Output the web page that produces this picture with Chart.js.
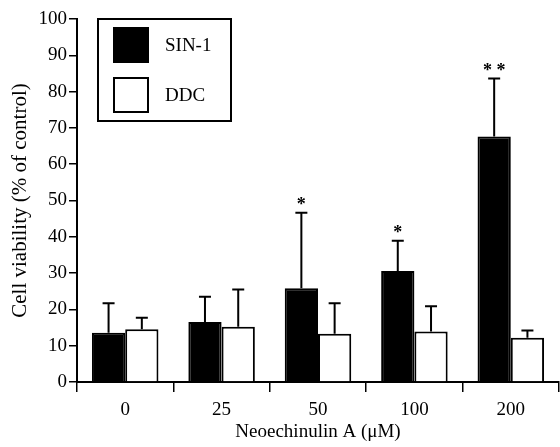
<!DOCTYPE html>
<html>
<head>
<meta charset="utf-8">
<script src="https://cdn.jsdelivr.net/npm/chart.js@4"></script>
<style>
  body { margin: 0; background: #fff; }
  #wrap { width: 560px; height: 447px; }
</style>
</head>
<body>
<div id="wrap"><canvas id="grafico"></canvas></div>
<script>
const categories = ['0', '25', '50', '100', '200'];
const sin1 = [13.6, 16.5, 25.8, 30.6, 67.6];
const sin1Sd = [8.1, 7.0, 20.8, 8.3, 16.0];
const ddc = [14.5, 15.2, 13.3, 13.9, 12.2];
const ddcSd = [3.2, 10.3, 8.4, 7.0, 2.0];
const signif = ['', '', '*', '*', '**'];
const yTicks = [0, 10, 20, 30, 40, 50, 60, 70, 80, 90, 100];

const serif = '"Liberation Serif", "Times New Roman", serif';

// error bars + asterisks on top of each bar
const errorBars = {
    id: 'errorBars',
    afterDatasetsDraw(chart) {
        const ctx = chart.ctx;
        const y = chart.scales.y;
        const sds = [sin1Sd, ddcSd];
        ctx.save();
        ctx.strokeStyle = '#000';
        ctx.lineWidth = 2;
        chart.data.datasets.forEach((ds, di) => {
            chart.getDatasetMeta(di).data.forEach((bar, i) => {
                const top = y.getPixelForValue(ds.data[i] + sds[di][i]);
                ctx.beginPath();
                ctx.moveTo(bar.x, bar.y);
                ctx.lineTo(bar.x, top);
                ctx.moveTo(bar.x - 6, top);
                ctx.lineTo(bar.x + 6, top);
                ctx.stroke();
                if (di === 0 && signif[i]) {
                    ctx.fillStyle = '#000';
                    ctx.font = 'bold 18px ' + serif;
                    ctx.textAlign = 'center';
                    ctx.textBaseline = 'middle';
                    ctx.fillText(signif[i].split('').join(' '), bar.x, top - 7);
                }
            });
        });
        ctx.restore();
    }
};

// boxed legend inside the plot area
const boxLegend = {
    id: 'boxLegend',
    afterDraw(chart) {
        const ctx = chart.ctx;
        const a = chart.chartArea;
        const bx = a.left + 21, by = a.top, bw = 133, bh = 102;
        ctx.save();
        ctx.strokeStyle = '#000';
        ctx.lineWidth = 2;
        ctx.fillStyle = '#fff';
        ctx.fillRect(bx, by, bw, bh);
        ctx.strokeRect(bx, by, bw, bh);
        chart.data.datasets.forEach((ds, i) => {
            const sy = by + 9 + i * 50;
            ctx.fillStyle = ds.backgroundColor;
            ctx.fillRect(bx + 16, sy, 34, 34);
            ctx.strokeRect(bx + 16, sy, 34, 34);
            ctx.fillStyle = '#000';
            ctx.font = '19px ' + serif;
            ctx.textAlign = 'left';
            ctx.textBaseline = 'middle';
            ctx.fillText(ds.label, bx + 67, sy + 18);
        });
        ctx.restore();
    }
};

new Chart(document.getElementById('grafico').getContext('2d'), {
    type: 'bar',
    data: {
        labels: categories,
        datasets: [
            {
                label: 'SIN-1',
                data: sin1,
                backgroundColor: '#000',
                borderColor: '#000',
                borderWidth: 2
            },
            {
                label: 'DDC',
                data: ddc,
                backgroundColor: '#fff',
                borderColor: '#000',
                borderWidth: 2
            }
        ]
    },
    options: {
        responsive: true,
        maintainAspectRatio: false,
        animation: false,
        layout: { padding: { top: 19, right: 1, left: 0, bottom: 0 } },
        datasets: { bar: { categoryPercentage: 0.69, barPercentage: 1 } },
        plugins: {
            legend: { display: false },
            tooltip: { enabled: false }
        },
        scales: {
            x: {
                afterFit(scale) { scale.height = 65; },
                border: { color: '#000', width: 2 },
                grid: { offset: true, drawOnChartArea: false, color: '#000', lineWidth: 1.5, tickLength: 10 },
                ticks: { color: '#000', font: { family: serif, size: 19 }, padding: 7, maxRotation: 0 },
                title: {
                    display: true,
                    text: 'Neoechinulin A (μM)',
                    color: '#000',
                    font: { family: serif, size: 19 },
                    padding: { top: 3 }
                }
            },
            y: {
                min: 0,
                max: 100,
                afterFit(scale) { scale.width = 77; },
                afterBuildTicks(scale) { scale.ticks = yTicks.map(v => ({ value: v })); },
                border: { color: '#000', width: 2 },
                grid: { drawOnChartArea: false, color: '#000', lineWidth: 1.5, tickLength: 8 },
                ticks: { color: '#000', font: { family: serif, size: 19 }, padding: 2 },
                title: {
                    display: true,
                    text: 'Cell viability (% of control)',
                    color: '#000',
                    font: { family: serif, size: 21 },
                    padding: { top: 8, bottom: 2 }
                }
            }
        }
    },
    plugins: [errorBars, boxLegend]
});
</script>
</body>
</html>
